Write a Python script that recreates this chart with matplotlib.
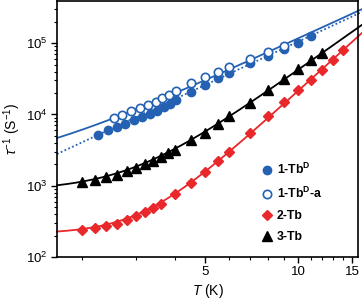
import numpy as np
import matplotlib
matplotlib.use("Agg")
import matplotlib.pyplot as plt
from matplotlib.ticker import LogLocator, FixedLocator, FixedFormatter, NullFormatter

plt.rcParams['font.family'] = 'Liberation Sans'
plt.rcParams['mathtext.fontset'] = 'custom'
plt.rcParams['mathtext.rm'] = 'Liberation Sans'
plt.rcParams['mathtext.it'] = 'Liberation Sans:italic'
plt.rcParams['mathtext.bf'] = 'Liberation Sans:bold'

# 1-Tb^D (filled circles)
T_1TbD = [2.25, 2.42, 2.59, 2.76, 2.94, 3.12, 3.32, 3.5, 3.68, 3.85, 4.03,
          4.5, 5.0, 5.5, 6.0, 7.0, 8.0, 9.0, 10.0, 11.0]
rate_1TbD = [5140, 5950, 6660, 7430, 8270, 9110, 10190, 11340, 12620, 14170, 15920,
             20810, 26260, 32080, 38060, 52070, 66990, 83750, 101900, 127900]

# 1-Tb^D-a (open circles)
T_1TbDa = [2.53, 2.7, 2.88, 3.08, 3.27, 3.47, 3.64, 3.83, 4.02,
           4.5, 5.0, 5.5, 6.0, 7.0, 8.0, 9.0]
rate_1TbDa = [8960, 9940, 11090, 12210, 13430, 15170, 16870, 19010, 21490,
              27560, 33680, 39990, 46970, 60380, 76240, 92560]

# 2-Tb (diamonds)
T_2Tb = [2.0, 2.2, 2.4, 2.6, 2.8, 3.0, 3.2, 3.4, 3.6, 4.0, 4.5, 5.0, 5.5, 6.0,
         7.0, 8.0, 9.0, 10.0, 11.0, 12.0, 13.0, 14.0]
rate_2Tb = [242, 254, 272, 290, 328, 370, 425, 491, 557, 758, 1081, 1582, 2220, 3000,
            5540, 9406, 15170, 21990, 30670, 41950, 57400, 80060]

# 3-Tb (triangles)
T_3Tb = [2.0, 2.2, 2.4, 2.6, 2.8, 3.0, 3.2, 3.4, 3.6, 3.8, 4.0, 4.5, 5.0, 5.5, 6.0,
         7.0, 8.0, 9.0, 10.0, 11.0, 12.0]
rate_3Tb = [1141, 1190, 1324, 1436, 1592, 1771, 1995, 2249, 2510, 2848, 3208, 4375,
            5485, 7290, 9497, 14690, 22350, 31370, 43050, 57940, 72630]

# fit parameters: rate = A + C * T**n
fit_1TbD = (0, 1000, 2.02)
fit_1TbDa = (1500, 1150, 2.0)
fit_2Tb = (210, 2.37, 3.95)
fit_3Tb = (850, 34.4, 3.08)

blue = '#2461b2'
red = '#e8282b'

fig = plt.figure(figsize=(3.62, 3.07), dpi=100)
ax = fig.add_axes([57 / 362, 1 - 257 / 307, (358 - 57) / 362, 256 / 307])
ax.set_xscale('log')
ax.set_yscale('log')

T_fit = np.geomspace(1.66, 16.2, 300)


def model(p):
    A, C, n = p
    return A + C * T_fit ** n


ax.plot(T_fit, model(fit_1TbD), color=blue, lw=1.3, ls=(0, (1, 1.3)), clip_on=False)
ax.plot(T_fit, model(fit_1TbDa), color=blue, lw=1.3, clip_on=False)
ax.plot(T_fit, model(fit_2Tb), color=red, lw=1.3, clip_on=False)
ax.plot(T_fit, model(fit_3Tb), color='black', lw=1.3, clip_on=False)

ax.plot(T_1TbD, rate_1TbD, 'o', color=blue, ms=6, mec=blue, ls='none',
        label=r'1-Tb$^{\mathbf{D}}$')
ax.plot(T_1TbDa, rate_1TbDa, 'o', mfc='white', mec=blue, mew=1.2, ms=6, ls='none',
        label=r'1-Tb$^{\mathbf{D}}$-a')
ax.plot(T_2Tb, rate_2Tb, 'D', color=red, ms=5.6, ls='none', label='2-Tb')
ax.plot(T_3Tb, rate_3Tb, '^', color='black', ms=6.6, ls='none', label='3-Tb')

ax.set_xlim(1.66, 15.64)
ax.set_ylim(100, 3.9e5)

ax.xaxis.set_major_locator(FixedLocator([5, 10, 15]))
ax.xaxis.set_major_formatter(FixedFormatter(['5', '10', '15']))
ax.xaxis.set_minor_locator(FixedLocator([2, 3, 4, 6, 7, 8, 9, 11, 12, 13, 14]))
ax.xaxis.set_minor_formatter(NullFormatter())
ax.yaxis.set_major_locator(LogLocator(base=10))
ax.yaxis.set_minor_locator(LogLocator(base=10, subs=np.arange(2, 10)))
ax.yaxis.set_minor_formatter(NullFormatter())

ax.tick_params(which='major', direction='out', length=4.5, width=1, labelsize=9.5, pad=2)
ax.tick_params(which='minor', direction='out', length=2.5, width=0.8)
for s in ax.spines.values():
    s.set_linewidth(1.2)

ax.set_xlabel(r'$T$ (K)', fontsize=10, labelpad=3)
ax.set_ylabel(r'$\tau^{-1}$ (S$^{-1}$)', fontsize=10, labelpad=2)

ax.legend(loc='upper left', bbox_to_anchor=(0.681, 0.37), frameon=False,
          prop={'weight': 'bold', 'size': 8.8}, handlelength=0.8, handletextpad=0.4,
          labelspacing=0.72, borderpad=0, borderaxespad=0)

fig.savefig('out.png', dpi=100)
